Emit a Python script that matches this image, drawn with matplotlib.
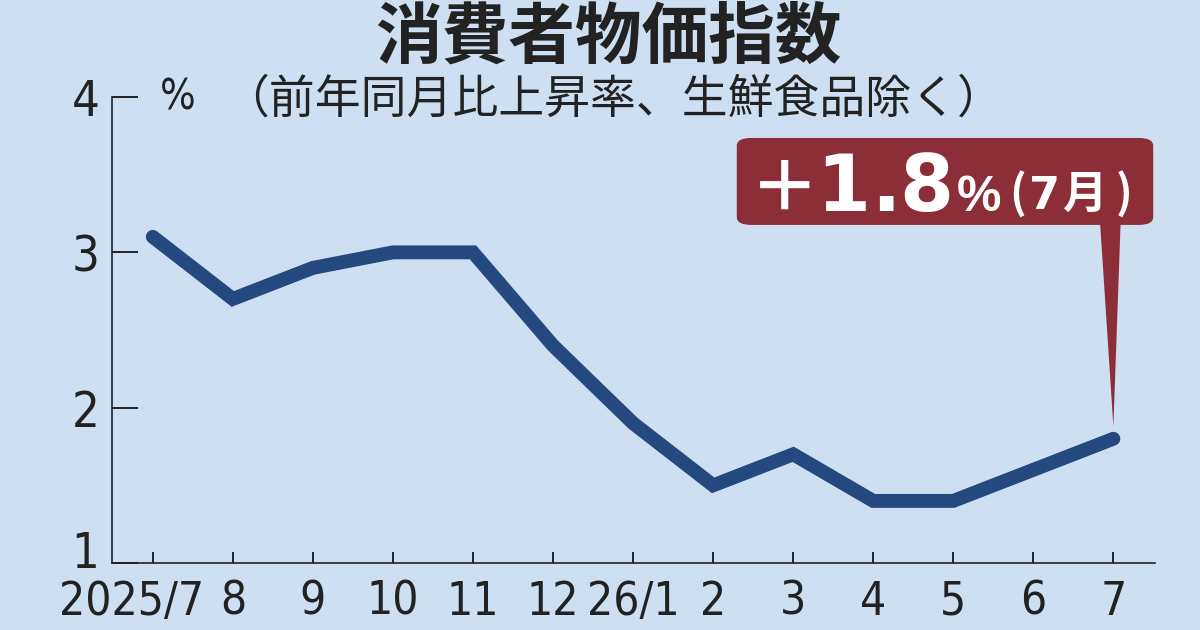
import numpy as np
import matplotlib
matplotlib.use('Agg')
import matplotlib.pyplot as plt
from matplotlib.patches import FancyBboxPatch, Polygon
from matplotlib.transforms import ScaledTranslation

# data
months = ['2025/7', '8', '9', '10', '11', '12', '26/1', '2', '3', '4', '5', '6', '7']
cpi = [3.1, 2.7, 2.9, 3.0, 3.0, 2.4, 1.9, 1.5, 1.7, 1.4, 1.4, 1.6, 1.8]
yticks = [1, 2, 3, 4]

title = '消費者物価指数'
subtitle = '（前年同月比上昇率、生鮮食品除く）'
big_chars = ['＋', '1', '.', '8']
pct_label = '%'
month_parts = ['(', '7', '月', ')']

bg = '#cfdff2'
line_c = '#24497f'
box_c = '#8b2e38'
ink = '#222222'
num_font = ['DejaVu Sans']
jp_font = ['Noto Sans CJK JP', 'DejaVu Sans']

fig = plt.figure(figsize=(12, 6.3), dpi=100, facecolor=bg)
ax = fig.add_axes([0.0933, 0.1063, 0.8692, 0.7397])
ax.set_facecolor(bg)

x = np.arange(len(months))
ax.plot(x, cpi, color=line_c, lw=10, solid_capstyle='round', solid_joinstyle='miter', zorder=3)

ax.set_xlim(-0.51, len(months) - 0.48)
ax.set_ylim(yticks[0], yticks[-1])

for s in ['top', 'right']:
    ax.spines[s].set_visible(False)
for s in ['left', 'bottom']:
    ax.spines[s].set_color(ink)
    ax.spines[s].set_linewidth(1.2)

ax.set_xticks(x)
ax.set_xticklabels(months, fontfamily=num_font, fontstretch='condensed', fontsize=33, color=ink)
ax.set_yticks(yticks)
ax.set_yticklabels([str(v) for v in yticks], fontfamily=num_font, fontstretch='condensed',
                   fontsize=35, color=ink)
ax.tick_params(axis='x', direction='in', length=8, width=1.4, color=ink, pad=12)
ax.tick_params(axis='y', direction='in', length=19, width=1.4, color=ink, pad=9)

# nudge a couple of labels like the original layout
xl = ax.get_xticklabels()
xl[0].set_transform(xl[0].get_transform() + ScaledTranslation(-0.21, 0, fig.dpi_scale_trans))
yl = ax.get_yticklabels()
yl[0].set_transform(yl[0].get_transform() + ScaledTranslation(0, 0.14, fig.dpi_scale_trans))

# titles
fig.text(0.507, 0.940, title, ha='center', va='center', fontfamily=jp_font,
         fontweight='bold', fontsize=48, color=ink)
fig.text(0.133, 0.846, '%', ha='left', va='center', fontfamily=num_font,
         fontstretch='condensed', fontsize=30, color=ink)
fig.text(0.186, 0.843, subtitle, ha='left', va='center', fontfamily=jp_font, fontsize=33, color=ink)

# callout box
box = FancyBboxPatch((0.614, 0.643), 0.347, 0.138, boxstyle='round,pad=0,rounding_size=0.012',
                     transform=fig.transFigure, facecolor=box_c, edgecolor='none', zorder=5)
fig.patches.append(box)
tip = ax.transData.transform((x[-1], cpi[-1] + 0.08))
tip = fig.transFigure.inverted().transform(tip)
ptr = Polygon([(tip[0] - 0.011, 0.644), (tip[0] + 0.006, 0.644), tip], closed=True,
              transform=fig.transFigure, facecolor=box_c, edgecolor='none', zorder=5)
fig.patches.append(ptr)

# big number, loosely tracked
char_x = [0.654, 0.703, 0.738, 0.772]
char_size = [50, 56, 56, 56]
for ch, cx, fs in zip(big_chars, char_x, char_size):
    fam = jp_font if ch == '＋' else ['DejaVu Sans']
    fig.text(cx, 0.665, ch, ha='center', va='baseline', fontfamily=fam,
             fontweight='bold', fontsize=fs, color='white', zorder=6)
fig.text(0.797, 0.665, pct_label, ha='left', va='baseline', fontfamily=['Liberation Sans', 'DejaVu Sans'],
         fontweight='bold', fontsize=36, color='white', zorder=6)
part_x = [0.848, 0.870, 0.904, 0.937]
part_font = [jp_font, ['DejaVu Sans'], jp_font, jp_font]
part_y = [0.670, 0.669, 0.670, 0.670]
for part, px, py, pf in zip(month_parts, part_x, part_y, part_font):
    fig.text(px, py, part, ha='center', va='baseline', fontfamily=pf,
             fontweight='bold', fontsize=32, color='white', zorder=6)

fig.savefig('out.png', dpi=100, facecolor=bg)
